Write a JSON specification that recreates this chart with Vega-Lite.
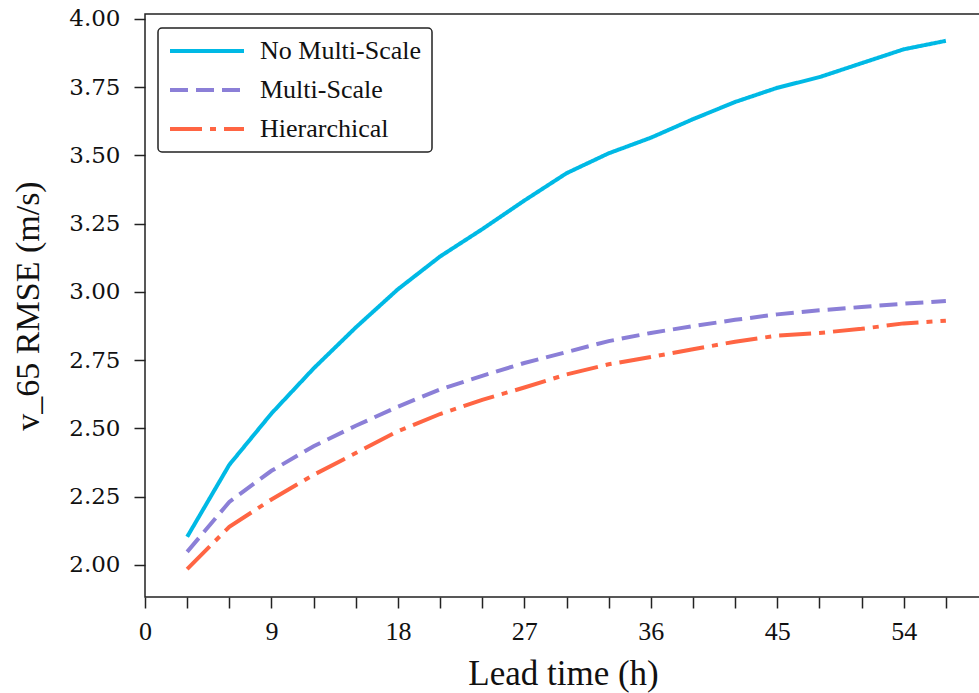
{
  "$schema": "https://vega.github.io/schema/vega-lite/v6.json",
  "width": 836,
  "height": 583,
  "autosize": {"type": "none"},
  "padding": {"left": 145, "top": 14, "right": 0, "bottom": 96},
  "background": "white",
  "config": {
    "view": {"stroke": "#222222", "strokeWidth": 1.5},
    "font": "Liberation Serif"
  },
  "data": {
    "values": [
      {"lead": 3, "rmse": 2.103, "model": "No Multi-Scale"},
      {"lead": 6, "rmse": 2.367, "model": "No Multi-Scale"},
      {"lead": 9, "rmse": 2.555, "model": "No Multi-Scale"},
      {"lead": 12, "rmse": 2.72, "model": "No Multi-Scale"},
      {"lead": 15, "rmse": 2.87, "model": "No Multi-Scale"},
      {"lead": 18, "rmse": 3.01, "model": "No Multi-Scale"},
      {"lead": 21, "rmse": 3.13, "model": "No Multi-Scale"},
      {"lead": 24, "rmse": 3.23, "model": "No Multi-Scale"},
      {"lead": 27, "rmse": 3.335, "model": "No Multi-Scale"},
      {"lead": 30, "rmse": 3.435, "model": "No Multi-Scale"},
      {"lead": 33, "rmse": 3.508, "model": "No Multi-Scale"},
      {"lead": 36, "rmse": 3.565, "model": "No Multi-Scale"},
      {"lead": 39, "rmse": 3.633, "model": "No Multi-Scale"},
      {"lead": 42, "rmse": 3.696, "model": "No Multi-Scale"},
      {"lead": 45, "rmse": 3.748, "model": "No Multi-Scale"},
      {"lead": 48, "rmse": 3.787, "model": "No Multi-Scale"},
      {"lead": 51, "rmse": 3.838, "model": "No Multi-Scale"},
      {"lead": 54, "rmse": 3.889, "model": "No Multi-Scale"},
      {"lead": 57, "rmse": 3.92, "model": "No Multi-Scale"},
      {"lead": 3, "rmse": 2.048, "model": "Multi-Scale"},
      {"lead": 6, "rmse": 2.231, "model": "Multi-Scale"},
      {"lead": 9, "rmse": 2.345, "model": "Multi-Scale"},
      {"lead": 12, "rmse": 2.435, "model": "Multi-Scale"},
      {"lead": 15, "rmse": 2.51, "model": "Multi-Scale"},
      {"lead": 18, "rmse": 2.58, "model": "Multi-Scale"},
      {"lead": 21, "rmse": 2.643, "model": "Multi-Scale"},
      {"lead": 24, "rmse": 2.693, "model": "Multi-Scale"},
      {"lead": 27, "rmse": 2.74, "model": "Multi-Scale"},
      {"lead": 30, "rmse": 2.78, "model": "Multi-Scale"},
      {"lead": 33, "rmse": 2.82, "model": "Multi-Scale"},
      {"lead": 36, "rmse": 2.85, "model": "Multi-Scale"},
      {"lead": 39, "rmse": 2.875, "model": "Multi-Scale"},
      {"lead": 42, "rmse": 2.898, "model": "Multi-Scale"},
      {"lead": 45, "rmse": 2.918, "model": "Multi-Scale"},
      {"lead": 48, "rmse": 2.933, "model": "Multi-Scale"},
      {"lead": 51, "rmse": 2.945, "model": "Multi-Scale"},
      {"lead": 54, "rmse": 2.957, "model": "Multi-Scale"},
      {"lead": 57, "rmse": 2.967, "model": "Multi-Scale"},
      {"lead": 3, "rmse": 1.985, "model": "Hierarchical"},
      {"lead": 6, "rmse": 2.14, "model": "Hierarchical"},
      {"lead": 9, "rmse": 2.24, "model": "Hierarchical"},
      {"lead": 12, "rmse": 2.33, "model": "Hierarchical"},
      {"lead": 15, "rmse": 2.41, "model": "Hierarchical"},
      {"lead": 18, "rmse": 2.49, "model": "Hierarchical"},
      {"lead": 21, "rmse": 2.553, "model": "Hierarchical"},
      {"lead": 24, "rmse": 2.605, "model": "Hierarchical"},
      {"lead": 27, "rmse": 2.65, "model": "Hierarchical"},
      {"lead": 30, "rmse": 2.698, "model": "Hierarchical"},
      {"lead": 33, "rmse": 2.735, "model": "Hierarchical"},
      {"lead": 36, "rmse": 2.762, "model": "Hierarchical"},
      {"lead": 39, "rmse": 2.79, "model": "Hierarchical"},
      {"lead": 42, "rmse": 2.818, "model": "Hierarchical"},
      {"lead": 45, "rmse": 2.84, "model": "Hierarchical"},
      {"lead": 48, "rmse": 2.85, "model": "Hierarchical"},
      {"lead": 51, "rmse": 2.865, "model": "Hierarchical"},
      {"lead": 54, "rmse": 2.885, "model": "Hierarchical"},
      {"lead": 57, "rmse": 2.895, "model": "Hierarchical"}
    ]
  },
  "mark": {"type": "line", "strokeWidth": 4, "strokeCap": "butt", "clip": true},
  "encoding": {
    "x": {
      "field": "lead",
      "type": "quantitative",
      "scale": {"domain": [0, 59.5], "nice": false, "zero": false},
      "axis": {
        "title": "Lead time (h)",
        "values": [0, 3, 6, 9, 12, 15, 18, 21, 24, 27, 30, 33, 36, 39, 42, 45, 48, 51, 54, 57],
        "labelExpr": "datum.value % 9 == 0 ? datum.label : ''",
        "grid": false,
        "domain": false,
        "tickSize": 11,
        "tickWidth": 1.5,
        "tickColor": "#222222",
        "labelFont": "Liberation Serif",
        "labelFontSize": 26,
        "labelColor": "#111111",
        "labelPadding": 10,
        "labelFlush": false,
        "titleFont": "Liberation Serif",
        "titleFontSize": 35,
        "titleFontWeight": "normal",
        "titleColor": "#111111",
        "titleX": 418,
        "titleY": 87,
        "titleAlign": "center",
        "titleBaseline": "alphabetic",
        "titleAnchor": null
      }
    },
    "y": {
      "field": "rmse",
      "type": "quantitative",
      "scale": {"domain": [1.8827, 4.0183], "nice": false, "zero": false},
      "axis": {
        "title": "v_65 RMSE (m/s)",
        "values": [2.0, 2.25, 2.5, 2.75, 3.0, 3.25, 3.5, 3.75, 4.0],
        "format": ".2f",
        "grid": false,
        "domain": false,
        "tickSize": 11,
        "tickWidth": 1.5,
        "tickColor": "#222222",
        "labelFont": "DejaVu Serif",
        "labelFontSize": 23,
        "labelColor": "#111111",
        "labelPadding": 14,
        "labelFlush": false,
        "titleFont": "Liberation Serif",
        "titleFontSize": 34,
        "titleFontWeight": "normal",
        "titleColor": "#111111",
        "titleAngle": -90,
        "titleX": -107,
        "titleY": 291.5,
        "titleAlign": "center",
        "titleBaseline": "alphabetic",
        "titleAnchor": null
      }
    },
    "color": {
      "field": "model",
      "type": "nominal",
      "scale": {
        "domain": ["No Multi-Scale", "Multi-Scale", "Hierarchical"],
        "range": ["#00B9E5", "#8B7FD7", "#FF6543"]
      },
      "legend": {
        "title": null,
        "orient": "none",
        "legendX": 13,
        "legendY": 14,
        "symbolType": "stroke",
        "symbolSize": 5476,
        "symbolStrokeWidth": 4,
        "clipHeight": 26,
        "rowPadding": 13,
        "labelFont": "Liberation Serif",
        "labelFontSize": 26,
        "labelColor": "#111111",
        "labelOffset": 14,
        "labelLimit": 400,
        "padding": 10,
        "strokeColor": "#222222",
        "cornerRadius": 4,
        "fillColor": "white",
        "encode": {"legend": {"update": {"strokeWidth": {"value": 1.5}}}}
      }
    },
    "strokeDash": {
      "field": "model",
      "type": "nominal",
      "scale": {
        "domain": ["No Multi-Scale", "Multi-Scale", "Hierarchical"],
        "range": [[1, 0], [18, 8], [32, 8, 6, 8]]
      },
      "legend": null
    }
  }
}
